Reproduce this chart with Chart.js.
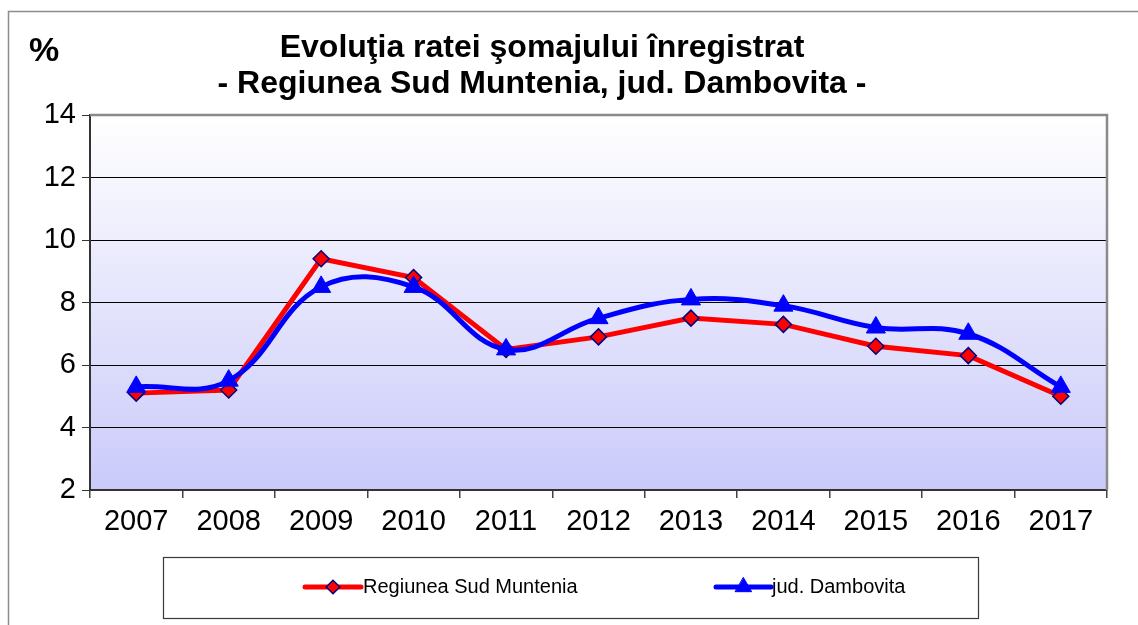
<!DOCTYPE html>
<html>
<head>
<meta charset="utf-8">
<script src="https://cdn.jsdelivr.net/npm/chart.js@4/dist/chart.umd.min.js"></script>
<style>
  html, body { margin: 0; padding: 0; background: #ffffff; }
  #wrap { width: 1138px; height: 625px; position: relative; }
</style>
</head>
<body>
<div id="wrap"><canvas id="c" width="1138" height="625"></canvas></div>
<script>
// ---- data ----
const years = ['2007', '2008', '2009', '2010', '2011', '2012', '2013', '2014', '2015', '2016', '2017'];
const sudMuntenia = [5.1, 5.2, 9.4, 8.8, 6.5, 6.9, 7.5, 7.3, 6.6, 6.3, 5.0];
const dambovita = [5.3, 5.5, 8.5, 8.5, 6.5, 7.5, 8.1, 7.9, 7.2, 7.0, 5.3];
const seriesNames = ['Regiunea Sud Muntenia', 'jud. Dambovita'];
const titleLines = ['Evoluţia ratei şomajului înregistrat', '- Regiunea Sud Muntenia, jud. Dambovita -'];
const yUnit = '%';
const yMin = 2, yMax = 14, yStep = 2;

const FONT = '"Liberation Sans", Arial, Helvetica, sans-serif';

function drawMarker(ctx, style, x, y, r, fill, stroke, bw) {
  ctx.save();
  ctx.beginPath();
  if (style === 'rectRot') {
    ctx.moveTo(x, y - r); ctx.lineTo(x + r, y); ctx.lineTo(x, y + r); ctx.lineTo(x - r, y);
  } else {
    const a = Math.PI / 6;
    ctx.moveTo(x, y - r);
    ctx.lineTo(x + r * Math.cos(a), y + r * Math.sin(a));
    ctx.lineTo(x - r * Math.cos(a), y + r * Math.sin(a));
  }
  ctx.closePath();
  ctx.fillStyle = fill; ctx.fill();
  ctx.lineWidth = bw; ctx.strokeStyle = stroke; ctx.stroke();
  ctx.restore();
}

const decor = {
  id: 'decor',
  beforeDraw(chart) {
    const ctx = chart.ctx, a = chart.chartArea;
    ctx.save();
    // outer frame
    ctx.strokeStyle = '#8c8c8c'; ctx.lineWidth = 1.5;
    ctx.beginPath();
    ctx.moveTo(8.5, 640); ctx.lineTo(8.5, 11.5); ctx.lineTo(1150, 11.5);
    ctx.stroke();
    // plot area gradient
    const g = ctx.createLinearGradient(0, a.top, 0, a.bottom);
    g.addColorStop(0, '#ffffff');
    g.addColorStop(1, '#cacafa');
    ctx.fillStyle = g;
    ctx.fillRect(a.left, a.top, a.right - a.left, a.bottom - a.top);
    ctx.restore();
  },
  afterDatasetsDraw(chart) {
    const ctx = chart.ctx, a = chart.chartArea;
    ctx.save();
    // top & right plot border
    ctx.strokeStyle = '#8a8a8a';
    ctx.lineWidth = 2.5;
    ctx.beginPath();
    ctx.moveTo(a.left, a.top); ctx.lineTo(a.right, a.top); ctx.lineTo(a.right, a.bottom);
    ctx.stroke();
    ctx.restore();
  },
  afterDraw(chart) {
    const ctx = chart.ctx;
    ctx.save();
    // title
    ctx.fillStyle = '#000';
    ctx.textAlign = 'center';
    ctx.textBaseline = 'alphabetic';
    ctx.font = 'bold 32px ' + FONT;
    ctx.fillText(titleLines[0], 542, 57);
    ctx.fillText(titleLines[1], 542, 93);
    // unit label
    ctx.textAlign = 'left';
    ctx.font = 'bold 34px ' + FONT;
    ctx.fillText(yUnit, 29, 61);
    // legend box
    ctx.strokeStyle = '#3a3a3a';
    ctx.lineWidth = 1.2;
    ctx.strokeRect(163.5, 557.5, 815, 61);
    const items = [
      { x0: 305, x1: 361, tx: 363 },
      { x0: 716, x1: 771, tx: 772 }
    ];
    const ly = 587;
    chart.data.datasets.forEach((ds, i) => {
      const it = items[i];
      ctx.strokeStyle = ds.borderColor;
      ctx.lineWidth = ds.borderWidth;
      ctx.lineCap = 'round';
      ctx.beginPath(); ctx.moveTo(it.x0, ly); ctx.lineTo(it.x1, ly); ctx.stroke();
      drawMarker(ctx, ds.pointStyle, (it.x0 + it.x1) / 2, ly, ds.pointRadius * 0.85,
        ds.pointBackgroundColor, ds.pointBorderColor, ds.pointBorderWidth);
      ctx.fillStyle = '#000';
      ctx.font = '20px ' + FONT;
      ctx.textAlign = 'left';
      ctx.textBaseline = 'middle';
      ctx.fillText(ds.label, it.tx, ly);
    });
    ctx.restore();
  }
};

new Chart(document.getElementById('c'), {
  type: 'line',
  data: {
    labels: years,
    datasets: [
      {
        label: seriesNames[0],
        data: sudMuntenia,
        borderColor: '#ff0000',
        borderWidth: 5,
        pointStyle: 'rectRot',
        pointRadius: 8,
        pointBackgroundColor: '#ff0000',
        pointBorderColor: '#000080',
        pointBorderWidth: 1.5,
        tension: 0,
        order: 1
      },
      {
        label: seriesNames[1],
        data: dambovita,
        borderColor: '#0000ff',
        borderWidth: 5,
        pointStyle: 'triangle',
        pointRadius: 11,
        pointBackgroundColor: '#0000ff',
        pointBorderColor: '#0000ff',
        pointBorderWidth: 1,
        tension: 0.4,
        order: 0
      }
    ]
  },
  options: {
    responsive: false,
    animation: false,
    devicePixelRatio: 1,
    layout: { padding: { top: 115, left: 0, right: 31, bottom: 90 } },
    plugins: {
      legend: { display: false },
      title: { display: false },
      tooltip: { enabled: false }
    },
    scales: {
      x: {
        offset: true,
        afterFit(s) { s.height = 45; },
        grid: {
          offset: true,
          drawOnChartArea: false,
          drawTicks: true,
          tickLength: 8,
          color: '#444',
          lineWidth: 1.5
        },
        border: { display: true, color: '#333', width: 2 },
        ticks: {
          color: '#000',
          font: { family: FONT, size: 29 },
          padding: 7,
          maxRotation: 0,
          autoSkip: false
        }
      },
      y: {
        min: yMin,
        max: yMax,
        afterFit(s) { s.width = 90; },
        grid: {
          color: '#000',
          lineWidth: 1,
          drawTicks: true,
          tickLength: 8,
          tickColor: '#333'
        },
        border: { display: true, color: '#333', width: 2 },
        ticks: {
          stepSize: yStep,
          color: '#000',
          font: { family: FONT, size: 29 },
          padding: 6
        }
      }
    }
  },
  plugins: [decor]
});
</script>
</body>
</html>
